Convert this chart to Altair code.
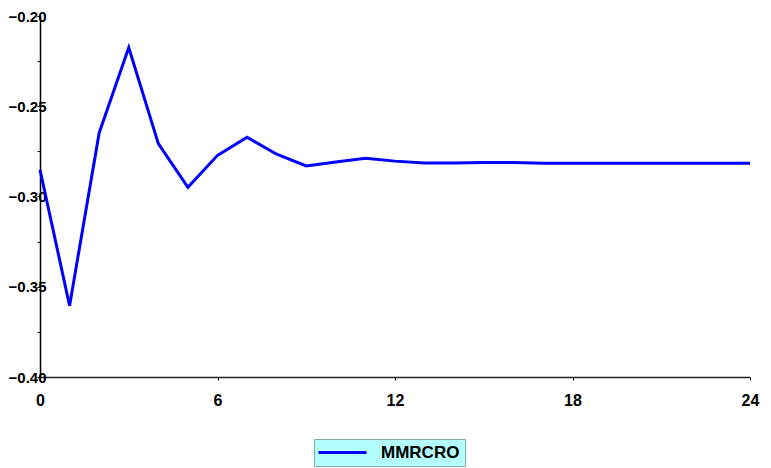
import altair as alt
import pandas as pd

steps = list(range(25))
values = [-0.2852, -0.3605, -0.2648, -0.2175, -0.2707, -0.2949, -0.2772,
          -0.2672, -0.2766, -0.2831, -0.2809, -0.2788, -0.2804, -0.2815,
          -0.2815, -0.2812, -0.2812, -0.2816, -0.2816, -0.2816, -0.2816,
          -0.2816, -0.2816, -0.2816, -0.2816]
series_name = "MMRCRO"
x_ticks = [0, 6, 12, 18, 24]
y_ticks = [-0.4, -0.375, -0.35, -0.325, -0.3, -0.275, -0.25, -0.225, -0.2]

df = pd.DataFrame({"step": steps, "value": values, "series": [series_name] * len(steps)})

FONT = "Liberation Sans"

chart = alt.Chart(df).mark_line(strokeWidth=3, clip=False).encode(
    x=alt.X("step:Q",
            scale=alt.Scale(domain=[0, 24], nice=False, zero=False),
            axis=alt.Axis(values=x_ticks, title=None, grid=False, tickSize=3,
                          tickColor="black", domainColor="#222", domainWidth=1.5,
                          labelFont=FONT, labelFontSize=16, labelFontWeight="bold",
                          labelColor="black", labelPadding=12, labelFlush=False,
                          format="d")),
    y=alt.Y("value:Q",
            scale=alt.Scale(domain=[-0.4, -0.2], nice=False, zero=False),
            axis=alt.Axis(values=y_ticks, title=None, grid=False, tickSize=3,
                          tickColor="black", domainColor="black", domainWidth=1.5,
                          labelFont=FONT, labelFontSize=15, labelFontWeight="bold",
                          labelColor="black", labelPadding=-9,
                          labelExpr="(round(datum.value*1000) % 50 == 0) ? format(datum.value, '.2f') : ''")),
    color=alt.Color("series:N",
                    scale=alt.Scale(domain=[series_name], range=["#0000ff"]),
                    legend=alt.Legend(title=None, orient="none", legendX=274, legendY=423,
                                      direction="horizontal", fillColor="#b4fcfc",
                                      strokeColor="#7fb3b3", padding=5,
                                      symbolType="M-1.5,0H6.5", symbolStrokeWidth=3,
                                      symbolSize=144, labelFont=FONT, labelFontSize=17,
                                      labelFontWeight="bold", labelColor="black",
                                      labelOffset=45)),
).properties(
    width=710, height=361,
    padding={"left": 32, "top": 8, "right": 13, "bottom": 91},
    autosize=alt.AutoSizeParams(type="none"),
).configure_view(stroke=None)

chart.save("out.html", embed_options={"renderer": "svg", "actions": False})
